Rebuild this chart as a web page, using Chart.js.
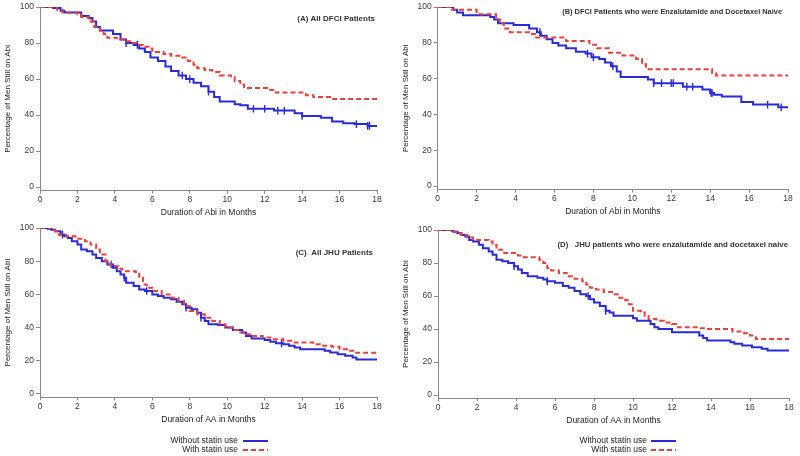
<!DOCTYPE html>
<html><head><meta charset="utf-8">
<script src="https://cdn.jsdelivr.net/npm/chart.js@4/dist/chart.umd.min.js"></script>
<style>
html,body{margin:0;padding:0;background:#fff;width:800px;height:456px;overflow:hidden}
canvas{position:absolute;display:block}
</style></head><body>
<canvas id="cA" width="400" height="220" style="left:0;top:0"></canvas>
<canvas id="cB" width="400" height="220" style="left:400px;top:0"></canvas>
<canvas id="cC" width="400" height="236" style="left:0;top:220px"></canvas>
<canvas id="cD" width="400" height="236" style="left:400px;top:220px"></canvas>
<script>
// ---------- data ----------
const xTicks = [0,2,4,6,8,10,12,14,16,18];
const yTicks = [0,20,40,60,80,100];
const seriesLabels = ["Without statin use","With statin use"];

// Panel A
const aBlueT = [0,0.7,1.1,1.3,2.2,2.6,2.8,3.0,3.2,3.9,4.3,4.6,5.0,5.3,5.6,5.9,6.3,6.7,7.0,7.4,7.8,8.2,8.6,9.0,9.3,9.6,10.4,10.7,11.1,12.5,13.6,14.0,15.0,15.6,16.2,16.8,17.5,18];
const aBlueS = [100,99.5,98,97,95,94,92,89,87,85,82,80,79,77,75,72,70,67,64.5,62,60,58,56,53,50,47.5,46,45.5,43.5,42.5,41,39.5,38.5,36.5,35.5,35,34,34];
const aRedT = [0,0.9,1.2,2.0,2.2,2.6,2.9,3.2,3.4,3.6,4.1,4.5,4.8,5.2,5.5,5.8,6.0,6.6,7.0,7.6,7.9,8.2,8.4,8.8,9.2,9.6,10.2,10.4,10.7,10.9,12.3,12.6,14.2,14.6,15.5,18];
const aRedS = [100,98.5,97,96,94.5,92,89,87,85,83,82,81,80,79,78,77,75,74,73,72,70,68,66,65,64,62,61,59,57,55,54,52.5,51,50,49,49];
const aCensor = [4.6,5.2,7.6,8.0,9.0,11.4,12.0,12.7,13.05,14.0,16.9,17.5,17.6];

// Panel B
const bBlueT = [0,0.8,1.0,1.3,2.7,2.9,3.1,3.9,4.7,5.1,5.3,5.6,5.9,6.2,6.6,7.1,7.6,7.9,8.3,8.6,8.9,9.2,9.4,10.8,11.1,12.6,13.6,14.0,14.2,14.6,15.6,16.2,17.5,18];
const bBlueS = [100,98.5,97,95.5,94.5,93,91,90,88,86,84,82,80,78.5,77,75,74,72,71,69,67,64,61,59.5,57.5,55.5,54,52,51,50,47,45.5,44,44];
const bRedT = [0,0.65,2.0,3.0,3.2,3.4,3.7,4.7,5.0,6.6,7.8,8.2,8.8,9.5,10.2,10.5,10.7,14.1,14.3,18];
const bRedS = [100,98.5,96,93,91,88,86,85,83,81,79,77,74.5,73,71,68,65.3,63,61.8,61.8];
const bCensor = [5.25,7.7,8.0,9.0,11.1,11.5,12.0,12.1,12.8,13.1,14.05,14.1,16.95,17.65];

// Panel C
const cBlueT = [0,0.4,0.6,0.8,1.1,1.3,1.5,1.7,2.0,2.2,2.5,2.8,3.0,3.3,3.6,3.9,4.1,4.3,4.5,4.6,5.0,5.3,5.6,6.0,6.3,6.6,7.0,7.3,7.6,7.8,8.1,8.4,8.6,8.8,9.0,9.5,9.9,10.3,10.8,11.0,11.3,12.0,12.3,12.6,13.0,13.3,13.6,13.9,15.2,15.5,15.9,16.3,16.7,16.9,18];
const cBlueS = [100,99.5,99,98,96,95,94,92,90,87,86,84,82,80,78,76,74,72,70,67,65,63,62,60,59,58,57,55.5,54,52,51,49,46,44,42,41.5,40,38.5,37,35,33.5,32.5,31.5,30.5,30,29,28,27,26,25,24,23,22,20.7,20.7];
const cRedT = [0,0.7,0.8,1.0,1.4,1.9,2.4,2.7,3.0,3.2,3.5,3.7,4.0,4.2,4.4,5.1,5.3,5.5,5.7,6.1,6.5,7.0,7.4,7.7,8.0,8.4,8.8,9.2,9.6,9.9,10.3,10.7,11.0,11.2,11.9,12.4,13.0,13.6,14.6,15.0,15.6,16.0,16.4,16.8,18];
const cRedS = [100,99,98,96,95,93.5,92,90,87,84,80,78,77,75.5,74,73.5,70,66,64,62,60,58,56,53,50,48,46,44,42,40,38.5,37,36,35,34,33,32,31,30,29,28.5,27,26,24.8,24.8];
const cCensor = [1.2,3.8,4.5,5.7,7.8,8.6,12.9];

// Panel D
const dBlueT = [0,0.7,0.8,1.0,1.2,1.4,1.6,1.8,2.1,2.3,2.6,2.8,3.0,3.3,3.6,3.9,4.1,4.3,4.6,5.1,5.4,5.6,6.0,6.4,6.7,7.0,7.3,7.6,7.8,8.0,8.3,8.6,8.8,9.0,10.0,10.2,10.9,11.1,11.3,12.0,13.4,13.6,13.8,15.0,15.2,15.6,16.1,16.6,16.9,18];
const dBlueS = [100,99.5,99,98,97,96,94,93,91,89,87,85,82,81,80,78,76,74,72,71,70,69,68,66,65,63,61,60,58,56,54,51,50,48,46.5,45,43,41,40,38,36,34.5,33,32,31,30,29,28,27,27];
const dRedT = [0,0.8,1.0,1.2,1.5,1.8,2.6,2.8,3.0,3.4,4.1,4.3,5.2,5.4,5.6,5.8,6.2,6.6,7.0,7.4,7.6,7.8,8.1,8.5,9.0,9.3,9.6,9.8,10.0,10.4,10.6,10.8,11.2,11.6,12.0,12.3,13.4,13.7,15.1,15.7,16.0,16.3,18];
const dRedS = [100,99,98,97,95.5,94,93,91,88,86,84.5,83.5,82,80,77,75.5,74,72,70.5,69,67,65,64,62.5,61,59,57.5,55,51,50,48,46,45,44,43,41,40.5,40,38.5,37.5,36,34,34];
const dCensor = [3.9,5.6,7.7,8.6];

// ---------- helpers ----------
const FONT = "'Liberation Sans', Arial, sans-serif";
const BLUE = '#2a2ad8';
const RED = '#e8413c';
const AXIS = '#8a8a8a';
const TXT = '#3a3a3a';

function pts(T, S){ return T.map((t,i)=>({x:t, y:S[i]})); }
function stepAt(T, S, t){ let v = S[0]; for (let i=0;i<T.length;i++){ if (T[i] <= t) v = S[i]; } return v; }

const panelText = {
  id: 'panelText',
  afterDraw(chart, args, o){
    const ctx = chart.ctx;
    ctx.save();
    if (o.label){
      ctx.font = "bold " + o.size + "px " + FONT;
      ctx.fillStyle = '#333';
      ctx.textAlign = 'right'; ctx.textBaseline = 'middle';
      ctx.fillText(o.label, o.lx, o.ly);
    }
    if (o.legend){
      ctx.font = "8.5px " + FONT;
      ctx.textAlign = 'right'; ctx.textBaseline = 'middle';
      const ds = chart.data.datasets.filter(d => d.type !== 'scatter');
      ds.forEach((d,i)=>{
        const y = o.legend.y[i];
        ctx.fillStyle = '#222';
        ctx.fillText(d.label, o.legend.textRight, y);
        ctx.strokeStyle = d.borderColor; ctx.lineWidth = d.borderWidth;
        ctx.setLineDash(d.borderDash || []);
        ctx.beginPath(); ctx.moveTo(o.legend.x1, y); ctx.lineTo(o.legend.x2, y); ctx.stroke();
        ctx.setLineDash([]);
      });
    }
    ctx.restore();
  }
};

function makePanel(id, g, blueT, blueS, redT, redS, censor, xTitle, label, legend){
  const W = g.W, H = g.H, xH = 29;
  const cfg = {
    type: 'line',
    data: { datasets: [
      { label: seriesLabels[0], data: pts(blueT, blueS), borderColor: BLUE, borderWidth: 2,
        stepped: true, pointRadius: 0, fill: false, order: 2 },
      { label: seriesLabels[1], data: pts(redT, redS), borderColor: RED, borderWidth: 2,
        borderDash: [5,3], stepped: true, pointRadius: 0, fill: false, order: 1 },
      { type: 'scatter', label: 'censored', data: censor.map(t=>({x:t, y: stepAt(blueT, blueS, t)})),
        pointStyle: 'line', rotation: 90, pointRadius: 3.8, borderColor: BLUE, borderWidth: 1.4,
        showLine: false, order: 3 }
    ]},
    options: {
      responsive: false, animation: false, events: [],
      layout: { padding: { left: 0, right: W - g.right, top: g.top, bottom: H - g.bottom - xH } },
      plugins: { legend: { display: false }, tooltip: { enabled: false },
        panelText: { label: label.text, lx: label.x, ly: label.y, size: label.size, legend: legend } },
      scales: {
        x: { type: 'linear', min: 0, max: 18,
          afterFit: s => { s.height = xH; },
          afterBuildTicks: s => { s.ticks = xTicks.map(v=>({value:v})); },
          grid: { display: true, drawOnChartArea: false, drawTicks: true, tickLength: 3, color: AXIS },
          border: { display: true, color: AXIS, width: 1 },
          ticks: { padding: 1, color: TXT, font: { family: FONT, size: 8.5 }, maxRotation: 0 },
          title: { display: true, text: xTitle, color: '#222', font: { family: FONT, size: 8.5 }, padding: { top: 0, bottom: 2 } }
        },
        y: { type: 'linear', min: -2, max: 100,
          afterFit: s => { s.width = g.left; },
          afterBuildTicks: s => { s.ticks = yTicks.map(v=>({value:v})); },
          grid: { display: true, drawOnChartArea: false, drawTicks: true, tickLength: 4, color: AXIS },
          border: { display: true, color: AXIS, width: 1 },
          ticks: { padding: 2, color: TXT, font: { family: FONT, size: 8.5 } },
          title: { display: true, text: 'Percentage of Men Still on Abi', color: '#222', font: { family: FONT, size: 8 }, padding: { top: g.ytPad, bottom: 0 } }
        }
      }
    },
    plugins: [panelText]
  };
  return new Chart(document.getElementById(id), cfg);
}

makePanel('cA', {W:400,H:220,left:40,right:377,top:6,bottom:190.7,ytPad:3},
  aBlueT, aBlueS, aRedT, aRedS, aCensor, 'Duration of Abi in Months',
  {text:'(A) All DFCI Patients', x:375, y:19, size:8}, null);
makePanel('cB', {W:400,H:220,left:37.7,right:388,top:6,bottom:189.6,ytPad:0.5},
  bBlueT, bBlueS, bRedT, bRedS, bCensor, 'Duration of Abi in Months',
  {text:'(B) DFCI Patients who were Enzalutamide and Docetaxel Naive', x:382, y:12, size:7.4}, null);
makePanel('cC', {W:400,H:236,left:40,right:377,top:8,bottom:177.3,ytPad:3},
  cBlueT, cBlueS, cRedT, cRedS, cCensor, 'Duration of AA in Months',
  {text:'(C)  All JHU Patients', x:373, y:33, size:8}, 
  {textRight:238, x1:243, x2:268, y:[221,230]});
makePanel('cD', {W:400,H:236,left:38,right:389,top:10,bottom:178.3,ytPad:0.5},
  dBlueT, dBlueS, dRedT, dRedS, dCensor, 'Duration of AA in Months',
  {text:'(D)   JHU patients who were enzalutamide and docetaxel naive', x:388, y:25, size:7.8},
  {textRight:247, x1:251, x2:276, y:[221,230]});
</script>
</body></html>
